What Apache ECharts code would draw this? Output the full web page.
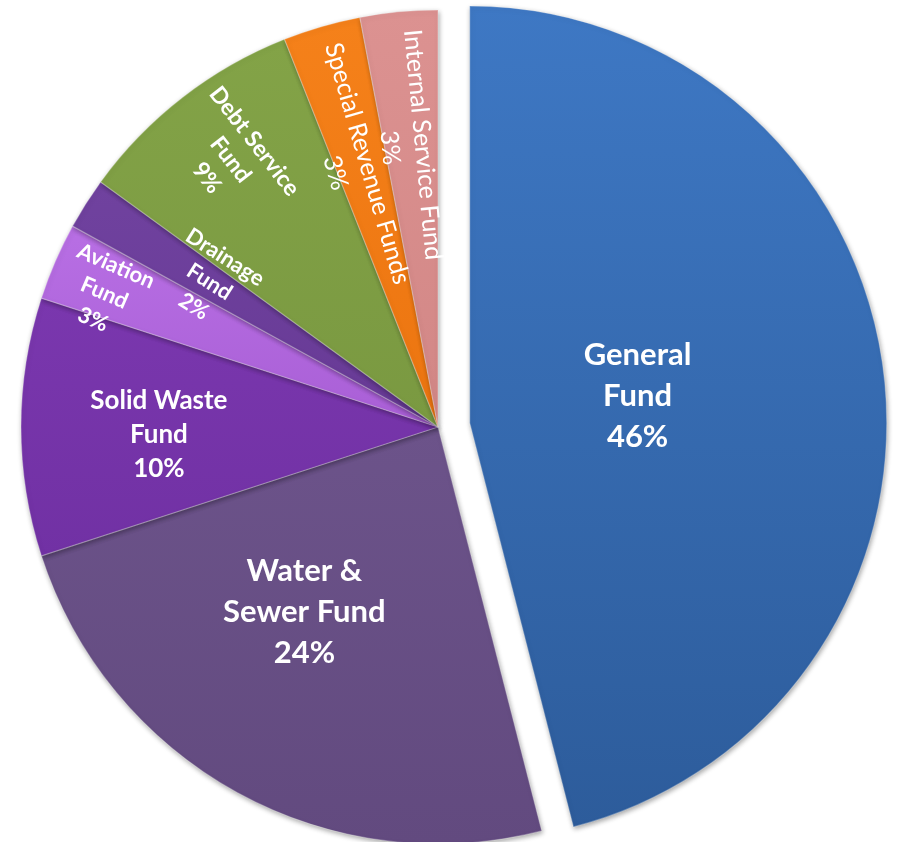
<!DOCTYPE html>
<html>
<head>
<meta charset="utf-8">
<title>Funds</title>
<script src="https://cdn.jsdelivr.net/npm/echarts@6/dist/echarts.min.js"></script>
<style>
  html, body { margin: 0; padding: 0; background: #ffffff; }
  #chart { width: 898px; height: 842px; }
</style>
</head>
<body>
<div id="chart"></div>
<script>
// Fund names, in clockwise order from twelve o'clock
const categories = [
  'General Fund',
  'Water & Sewer Fund',
  'Solid Waste Fund',
  'Aviation Fund',
  'Drainage Fund',
  'Debt Service Fund',
  'Special Revenue Funds',
  'Internal Service Fund'
];

// Share of the total, in percent
const shares = [46, 24, 10, 3, 2, 9, 3, 3];

// How each name is broken over lines inside its slice
const wrappedNames = [
  'General\nFund',
  'Water &\nSewer Fund',
  'Solid Waste\nFund',
  'Aviation\nFund',
  'Drainage\nFund',
  'Debt Service\nFund',
  'Special Revenue Funds',
  'Internal Service Fund'
];

// Slice colours: [lighter, darker]
const sliceColors = [
  ['#3e78c4', '#2d5c9b'],
  ['#6c538a', '#624a7f'],
  ['#7a37ae', '#7131a4'],
  ['#b86fe4', '#a95fd6'],
  ['#70429f', '#673a95'],
  ['#83a347', '#7a9941'],
  ['#f5811a', '#ec7510'],
  ['#dc9291', '#d28786']
];

// Label styling per slice
const labelSize = [31, 31, 26, 22, 22, 23, 25, 25];
const labelWeight = ['bold', 'bold', 'bold', 'bold', 'bold', 'bold', 'normal', 'normal'];
const labelRotate = [0, 0, 0, 'radial', 'radial', 'radial', 'radial', 'radial'];
// Distance of each label's centre from the pie centre, as a fraction of the radius
const labelReach = [0.5, 0.54, 0.66, 0.85, 0.64, 0.80, 0.645, 0.668];
// Small clockwise turn (degrees) of each label's centre around the pie centre
const labelTurn = [0, 7, -1.5, -1.5, 0, 0, -2.3, -1];

const CX = 438, CY = 427, R = 417;

const chart = echarts.init(document.getElementById('chart'), null, { renderer: 'canvas' });

const pieData = categories.map(function (name, i) {
  const label = {
    fontSize: labelSize[i],
    fontWeight: labelWeight[i],
    lineHeight: Math.round(labelSize[i] * 1.32),
    rotate: labelRotate[i]
  };
  // the pulled-out slice keeps its label a little closer to the slice tip
  if (i === 0) {
    label.padding = [0, 84, 0, 0];
  }
  return {
    name: name,
    value: shares[i],
    selected: i === 0,
    itemStyle: {
      color: new echarts.graphic.LinearGradient(0, 0, 0, 1, [
        { offset: 0, color: sliceColors[i][0] },
        { offset: 1, color: sliceColors[i][1] }
      ])
    },
    label: label
  };
});

chart.setOption({
  backgroundColor: '#ffffff',
  animation: false,
  series: [{
    type: 'pie',
    center: [CX, CY],
    radius: [0, R],
    startAngle: 90,
    clockwise: true,
    selectedMode: 'single',
    selectedOffset: 32,
    avoidLabelOverlap: false,
    percentPrecision: 0,
    data: pieData,
    itemStyle: {
      borderColor: 'rgba(255,255,255,0.28)',
      borderWidth: 1.2,
      shadowBlur: 5,
      shadowColor: 'rgba(0,0,0,0.35)',
      shadowOffsetX: 1,
      shadowOffsetY: 2
    },
    label: {
      show: true,
      position: 'inside',
      color: '#ffffff',
      fontFamily: 'Lato, "Open Sans", sans-serif',
      formatter: function (p) {
        return wrappedNames[p.dataIndex] + '\n' + p.percent + '%';
      }
    },
    labelLine: { show: false },
    labelLayout: function (p) {
      const r = p.labelRect;
      const k = labelReach[p.dataIndex] / 0.5;
      const vx = (r.x + r.width / 2 - CX) * k;
      const vy = (r.y + r.height / 2 - CY) * k;
      const t = labelTurn[p.dataIndex] * Math.PI / 180;
      return {
        x: CX + vx * Math.cos(t) - vy * Math.sin(t),
        y: CY + vx * Math.sin(t) + vy * Math.cos(t)
      };
    },
    emphasis: { disabled: true }
  }]
});
</script>
</body>
</html>
